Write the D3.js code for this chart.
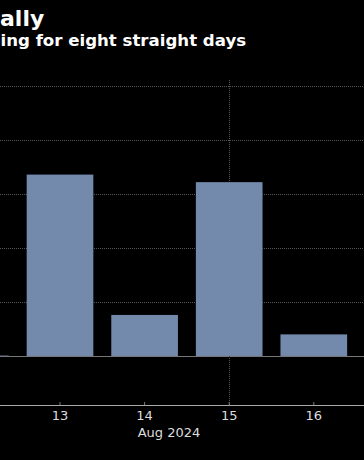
<!DOCTYPE html>
<html>
<head>
<meta charset="utf-8">
<script src="https://cdn.jsdelivr.net/npm/d3@7"></script>
<style>
  body { margin: 0; background: #000; }
  svg { display: block; }
</style>
</head>
<body>
<svg></svg>
<script>
"use strict";
// S&P 500 daily % change, Aug 2024
var days = ["12", "13", "14", "15", "16", "19"];
var changes = [0.004, 1.68, 0.38, 1.61, 0.20, 0.97];
var gridValues = [0, 0.5, 1, 1.5, 2, 2.5];
var title = "S&P 500 Extends Rally";
var subtitle = "The S&P 500 has been rising for eight straight days";
var monthLabel = "Aug 2024";

var svgWidth = 364, svgHeight = 460;
var svg = d3.select("svg").attr("width", svgWidth).attr("height", svgHeight);

svg.append("rect").attr("width", svgWidth).attr("height", svgHeight).attr("fill", "#000");

// chart is wider than the window, cropped on both sides
var x = d3.scaleBand().domain(days).range([-66.9, -66.9 + 6 * 84.6])
  .paddingInner(0.212).paddingOuter(0.106);
var y = d3.scaleLinear().domain([-0.454, 2.556]).range([405, 80]);

// heading starts left of the window; place the visible tail where it sits
function headline(txt, cut, size, left, base) {
  var t = svg.append("text").attr("y", base)
    .attr("fill", "#fff").attr("font-family", "DejaVu Sans").attr("font-weight", "bold")
    .attr("font-size", size).text(txt.slice(0, txt.length - cut.length));
  var w = t.node().getComputedTextLength();
  t.attr("x", left - w).text(txt);
}
headline(title, "ally", 22, 0, 25.5);
headline(subtitle, "ing for eight straight days", 16.6, 0.5, 45.5);

// horizontal grid
svg.selectAll(".grid").data(gridValues).enter().append("line")
  .attr("x1", 0).attr("x2", svgWidth)
  .attr("y1", function(d) { return Math.round(y(d)) + 0.5; })
  .attr("y2", function(d) { return Math.round(y(d)) + 0.5; })
  .attr("stroke", function(d) { return d === 0 ? "#777" : "#555"; })
  .attr("stroke-dasharray", function(d) { return d === 0 ? null : "1,1"; });

// vertical marker line at 15
var vx = Math.round(x("15") + x.bandwidth() / 2) + 0.5;
svg.append("line").attr("x1", vx).attr("x2", vx)
  .attr("y1", y(2.556)).attr("y2", y(-0.454))
  .attr("stroke", "#555").attr("stroke-dasharray", "1,1");

svg.selectAll(".bar").data(changes).enter().append("rect")
  .attr("x", function(d, i) { return x(days[i]); })
  .attr("width", x.bandwidth())
  .attr("y", function(d) { return y(Math.max(0, d)); })
  .attr("height", function(d) { return Math.abs(y(d) - y(0)); })
  .attr("fill", "#738aad");

var axis = svg.append("g").attr("transform", "translate(0," + 405 + ")")
  .call(d3.axisBottom(x).tickSize(-3).tickPadding(6));
axis.select(".domain").attr("d", "M0,0.5H" + svgWidth).attr("stroke", "#aaa");
axis.selectAll(".tick line").attr("stroke", "#777");
axis.selectAll(".tick text").attr("fill", "#ddd").attr("font-family", "DejaVu Sans")
  .attr("font-size", 13);

svg.append("text").attr("x", 169).attr("y", 437)
  .attr("text-anchor", "middle").attr("fill", "#ddd").attr("font-family", "DejaVu Sans")
  .attr("font-size", 13).text(monthLabel);
</script>
</body>
</html>
